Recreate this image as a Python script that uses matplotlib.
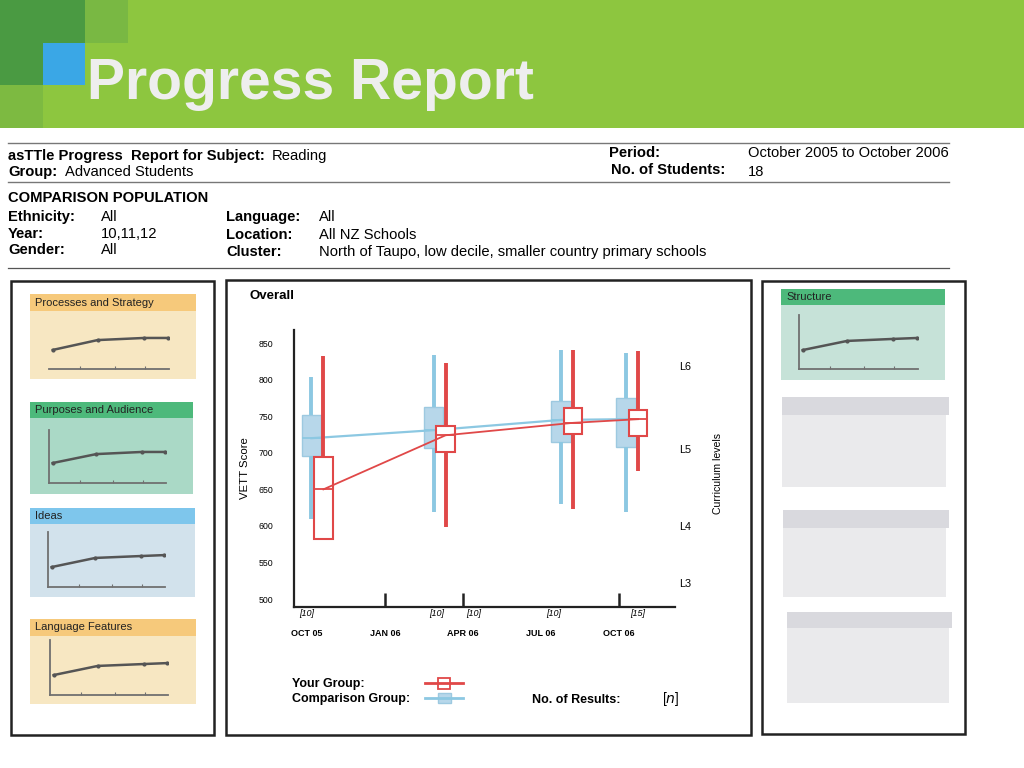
import matplotlib.pyplot as plt
from matplotlib.patches import Rectangle

plt.rcParams['font.family'] = ['Liberation Sans', 'DejaVu Sans']

W, H = 1024, 768

# test dates, in months after October 2005
test_months = [0.4, 5.1, 10.0, 12.5]

# your group (red boxes)
your_low = [582, 598, 623, 675]
your_q1 = [582, 701, 726, 723]
your_med = [650, 724, 741, 746]
your_q3 = [694, 737, 761, 758]
your_high = [832, 823, 840, 839]

# comparison group (blue boxes)
comp_low = [609, 619, 630, 619]
comp_q1 = [696, 707, 715, 708]
comp_med = [720, 731, 745, 746]
comp_q3 = [752, 763, 771, 775]
comp_high = [804, 834, 840, 836]

date_ticks = [0, 3, 6, 9, 12]
date_labels = ['OCT 05', 'JAN 06', 'APR 06', 'JUL 06', 'OCT 06']
marked_months = [3, 6, 12]
count_months = [0, 5.0, 6.4, 9.5, 12.7]
count_labels = ['[10]', '[10]', '[10]', '[10]', '[15]']
score_ticks = [500, 550, 600, 650, 700, 750, 800, 850]
level_names = ['L6', 'L5', 'L4', 'L3']
level_scores = [817, 704, 598, 521]

# small strand charts
strand_names = ['Processes and Strategy', 'Purposes and Audience', 'Ideas',
                'Language Features', 'Structure']
strand_scores = [
    [626, 691, 705, 705],
    [632, 691, 705, 705],
    [627, 685, 697, 703],
    [627, 685, 697, 703],
    [623, 682, 695, 701],
]
strand_ticks = [3.3, 6.9, 10.1]


def fig_rect(x0, y0, x1, y1):
    # pixel box (top-left origin) -> figure fraction
    return [x0 / W, 1 - y1 / H, (x1 - x0) / W, (y1 - y0) / H]


fig = plt.figure(figsize=(10.24, 7.68), dpi=100)
bg = fig.add_axes([0, 0, 1, 1])
bg.set_xlim(0, W)
bg.set_ylim(H, 0)
bg.axis('off')


def box(x0, y0, x1, y1, **kw):
    bg.add_patch(Rectangle((x0, y0), x1 - x0, y1 - y0, **kw))


# header band
box(0, 0, W, 128, color='#8DC63F', lw=0)
box(0, 0, 85, 85, color='#4A9A42', lw=0)
box(85, 0, 128, 43, color='#79B843', lw=0)
box(43, 43, 85, 85, color='#3AA7E6', lw=0)
box(0, 85, 43, 128, color='#7DBA41', lw=0)
bg.text(87, 84, 'Progress Report', fontsize=41, fontweight='bold',
        color='#EEEEEE', va='center', ha='left')

# report info
for y in [143, 182]:
    bg.plot([8, 949], [y, y], color='#777777', lw=1)
bg.plot([8, 949], [268, 268], color='#555555', lw=0.9)

fs = 10.6
bg.text(8, 156, 'asTTle Progress  Report for Subject:', fontsize=fs, fontweight='bold', va='center')
bg.text(272, 156, 'Reading', fontsize=fs, va='center')
bg.text(8, 172, 'Group:', fontsize=fs, fontweight='bold', va='center')
bg.text(65, 172, 'Advanced Students', fontsize=fs, va='center')
bg.text(609, 153, 'Period:', fontsize=fs, fontweight='bold', va='center')
bg.text(748, 153, 'October 2005 to October 2006', fontsize=fs, va='center')
bg.text(611, 170, 'No. of Students:', fontsize=fs, fontweight='bold', va='center')
bg.text(748, 172, '18', fontsize=fs, va='center')
bg.text(8, 198, 'COMPARISON POPULATION', fontsize=fs, fontweight='bold', va='center')

info_rows = [
    (8, 101, 217, 'Ethnicity:', 'All'),
    (8, 101, 234, 'Year:', '10,11,12'),
    (8, 101, 250, 'Gender:', 'All'),
    (226, 319, 217, 'Language:', 'All'),
    (226, 319, 235, 'Location:', 'All NZ Schools'),
    (226, 319, 252, 'Cluster:', 'North of Taupo, low decile, smaller country primary schools'),
]
for xl, xv, y, lab, val in info_rows:
    bg.text(xl, y, lab, fontsize=fs, fontweight='bold', va='center')
    bg.text(xv, y, val, fontsize=fs, va='center')

# outer frames
for x0, y0, x1, y1 in [(11, 281, 214, 735), (226, 280, 751, 735), (762, 281, 965, 734)]:
    box(x0, y0, x1, y1, fill=False, edgecolor='#222222', lw=1.8)

# strand panels: x0, x1, header top, header bottom, body bottom, colours, axes box, left spine
panels = [
    (30, 196, 294, 311, 379, '#F6C97B', '#F7E7C2', (49, 316, 169, 369), False),
    (30, 193, 402, 418, 494, '#4DB97B', '#AAD9C6', (49, 430, 166, 483), True),
    (30, 195, 508, 524, 597, '#7EC6EC', '#D2E2EC', (48, 532, 165, 587), True),
    (30, 196, 619, 636, 704, '#F6C97B', '#F7E7C2', (50, 640, 168, 695), True),
    (781, 945, 289, 305, 380, '#4DB97B', '#C6E2D8', (799, 315, 918, 369), True),
]
for name, scores, p in zip(strand_names, strand_scores, panels):
    x0, x1, ht, hb, bb, hc, bc, abox, left = p
    box(x0, hb, x1, bb, color=bc, lw=0)
    box(x0, ht, x1, hb, color=hc, lw=0)
    bg.text(x0 + 5, (ht + hb) / 2, name, fontsize=8, va='center', color='#222222')
    sa = fig.add_axes(fig_rect(*abox))
    sa.patch.set_alpha(0)
    sa.plot(test_months, scores, color='#555555', lw=1.8, marker='o', markersize=2)
    sa.set_xlim(0, 12.6)
    sa.set_ylim(500, 850)
    sa.spines[['top', 'right']].set_visible(False)
    sa.spines['left'].set_visible(left)
    for s in ['left', 'bottom']:
        sa.spines[s].set_color('#707070')
        sa.spines[s].set_linewidth(1.3)
    sa.set_xticks(strand_ticks)
    sa.set_yticks([])
    sa.tick_params(axis='x', direction='in', length=2, width=0.8, color='#707070', labelbottom=False)

# empty grey panels
for x0, x1, ht, hb, bb in [(782, 949, 397, 415, 487), (783, 949, 510, 528, 597), (787, 952, 612, 628, 703)]:
    box(x0, hb, x1 - 3, bb, color='#EAEAEC', lw=0)
    box(x0, ht, x1, hb, color='#D9D9DE', lw=0)

# main chart
red = '#E04848'
blue = '#8CC8E2'
ax = fig.add_axes(fig_rect(294, 330, 675, 606.7))
ax.patch.set_alpha(0)

comp_stats = [dict(med=m, q1=a, q3=b, whislo=lo, whishi=hi)
              for lo, a, m, b, hi in zip(comp_low, comp_q1, comp_med, comp_q3, comp_high)]
your_stats = [dict(med=m, q1=a, q3=b, whislo=lo, whishi=hi)
              for lo, a, m, b, hi in zip(your_low, your_q1, your_med, your_q3, your_high)]
comp_pos = [t - 0.23 for t in test_months]
your_pos = [t + 0.23 for t in test_months]

ax.bxp(comp_stats, positions=comp_pos, widths=0.75, patch_artist=True,
       showcaps=False, showfliers=False, manage_ticks=False, zorder=2,
       boxprops=dict(facecolor='#B7D7EA', edgecolor='#9DC9E0', linewidth=1),
       whiskerprops=dict(color=blue, linewidth=2.8, solid_capstyle='butt'),
       medianprops=dict(color=blue, linewidth=1.3))
ax.plot(comp_pos, comp_med, color=blue, lw=1.6, zorder=2.5)
ax.bxp(your_stats, positions=your_pos, widths=0.72, patch_artist=True,
       showcaps=False, showfliers=False, manage_ticks=False, zorder=3,
       boxprops=dict(facecolor='white', edgecolor=red, linewidth=1.5),
       whiskerprops=dict(color=red, linewidth=2.8, solid_capstyle='butt'),
       medianprops=dict(color=red, linewidth=1.3))
ax.plot(your_pos, your_med, color=red, lw=1.3, zorder=3.5)

ax.set_xlim(-0.5, 14.15)
ax.set_ylim(489.5, 868)
ax.spines[['top', 'right']].set_visible(False)
for s in ['left', 'bottom']:
    ax.spines[s].set_linewidth(1.6)
    ax.spines[s].set_color('#222222')
ax.set_yticks(score_ticks)
ax.tick_params(axis='y', length=0, pad=15, labelsize=6.3)
ax.set_xticks(date_ticks, date_labels)
ax.tick_params(axis='x', length=0, pad=16, labelsize=6.5)
for lbl in ax.get_xticklabels():
    lbl.set_fontweight('bold')
# upright date marks on the time axis
ax.vlines(marked_months, 0, 0.048, transform=ax.get_xaxis_transform(),
          color='#222222', lw=1.8, clip_on=False)

for m, lbl in zip(count_months, count_labels):
    ax.text(m, -0.008, lbl, transform=ax.get_xaxis_transform(), ha='center', va='top',
            fontsize=6.5, style='italic')
for name, score in zip(level_names, level_scores):
    ax.text(14.3, score, name, ha='left', va='center', fontsize=7.8, clip_on=False)

bg.text(249, 296, 'Overall', fontsize=9.5, fontweight='bold', va='center')
bg.text(245, 468, 'VETT Score', fontsize=8.2, rotation=90, ha='center', va='center')
bg.text(718, 474, 'Curriculum levels', fontsize=7.6, rotation=90, ha='center', va='center')

# legend
bg.text(292, 684, 'Your Group:', fontsize=9, fontweight='bold', va='center')
bg.text(292, 699, 'Comparison Group:', fontsize=9, fontweight='bold', va='center')
bg.plot([425, 463], [683, 683], color=red, lw=2)
box(438, 678, 450, 689, facecolor='white', edgecolor=red, lw=1.3)
bg.plot([425, 463], [698, 698], color=blue, lw=2)
box(438, 693, 451, 703, facecolor='#B7D7EA', edgecolor='#9DC9E0', lw=1)
bg.text(532, 700, 'No. of Results:', fontsize=9, fontweight='bold', va='center')
bg.text(662, 699, '[$n$]', fontsize=10, va='center')

fig.savefig('out.png', dpi=100)
